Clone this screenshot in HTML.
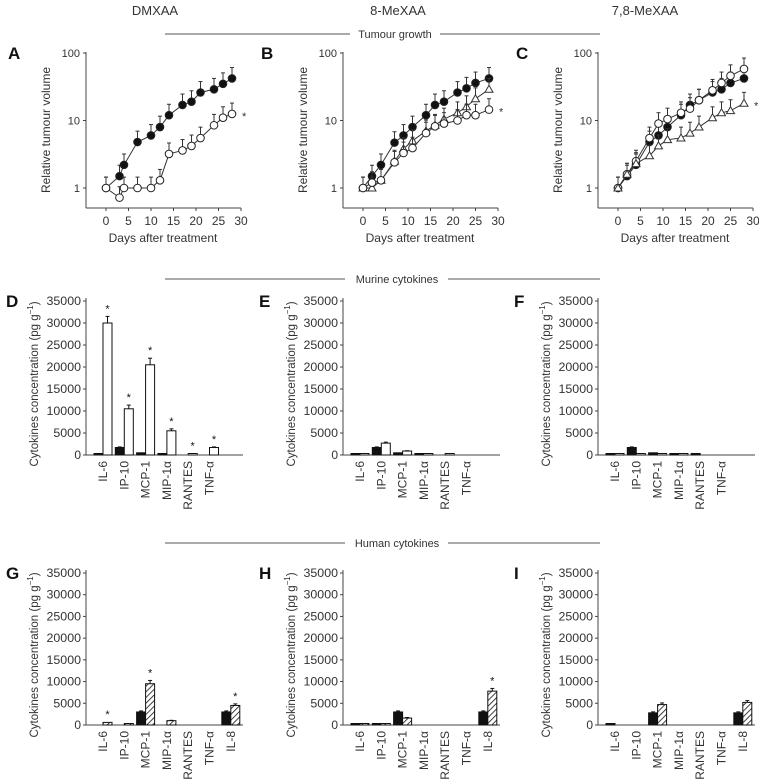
<!DOCTYPE html>
<html><head><meta charset="utf-8"><style>
body{margin:0;background:#fff;}
svg{display:block;font-family:"Liberation Sans",sans-serif;}
</style></head><body>
<svg id="fig" width="759" height="782">
<g fill="#333" font-size="13" text-anchor="middle">
<text x="155" y="15">DMXAA</text>
<text x="398" y="15">8-MeXAA</text>
<text x="645" y="15">7,8-MeXAA</text>
</g>
<g stroke="#777" stroke-width="1.2">
<line x1="165" y1="34" x2="350" y2="34"/><line x1="440" y1="34" x2="600" y2="34"/>
<line x1="165" y1="279" x2="345" y2="279"/><line x1="448" y1="279" x2="600" y2="279"/>
<line x1="165" y1="543" x2="345" y2="543"/><line x1="448" y1="543" x2="600" y2="543"/>
</g>
<g fill="#333" font-size="11" text-anchor="middle">
<text x="395" y="38">Tumour growth</text>
<text x="397" y="283">Murine cytokines</text>
<text x="397" y="547">Human cytokines</text>
</g>
<g id="plots"></g>
</svg>
<script>
// ---- Tumour growth data ----
const daysA=[0,3,4,7,10,12,14,17,19,21,24,26,28];
const daysBC=[0,2,4,7,9,11,14,16,18,21,23,25,28];
const A_closed=[1,1.5,2.2,4.8,6,8,12,17,19,26,29,35,42];
const A_open=[1,0.72,1,1,1,1.3,3.2,3.6,4.2,5.5,8.5,11,12.5];
const B_closed=[1,1.5,2.2,4.7,6,8,12,17,19,26,30,36,42];
const B_open=[1,1.2,1.3,2.4,3.3,3.9,6.5,8.2,9,10,12,12,14.5];
const B_tri=[1,1,1.3,2.5,3.8,5,7,8.5,10.5,13,16,21,29];
const C_closed=[1,1.5,2.2,4.8,6,8,12,17,20,26,29,36,42];
const C_open=[1,1.6,2.5,5.5,9,10.5,13,15,20,28,36,46,58];
const C_tri=[1,1.6,2.3,3,4.2,5.2,5.5,6.5,8,11,13,14,18];
const xTicks=[0,5,10,15,20,25,30];
const yTicksLog=[1,10,100];
// ---- Cytokine data ----
const murineCats=["IL-6","IP-10","MCP-1","MIP-1\u03b1","RANTES","TNF-\u03b1"];
const humanCats=["IL-6","IP-10","MCP-1","MIP-1\u03b1","RANTES","TNF-\u03b1","IL-8"];
const D_closed=[200,1700,500,100,0,0];
const D_open=[30000,10500,20500,5500,300,1700];
const E_closed=[200,1700,500,100,0,0];
const E_open=[100,2700,900,100,50,0];
const F_closed=[200,1700,500,100,50,0];
const F_open=[50,300,200,50,0,0];
const G_closed=[0,0,3000,0,0,0,3000];
const G_hatch=[600,200,9500,1000,0,0,4500];
const H_closed=[100,100,3000,0,0,0,3000];
const H_hatch=[100,100,1600,0,0,0,7800];
const I_closed=[100,0,2800,0,0,0,2800];
const I_hatch=[0,0,4700,0,0,0,5200];
const barTicks=[0,5000,10000,15000,20000,25000,30000,35000];

const NS="http://www.w3.org/2000/svg";
const root=document.getElementById('plots');
function el(tag,attrs,parent,txt){const e=document.createElementNS(NS,tag);for(const k in attrs)e.setAttribute(k,attrs[k]);if(txt!==undefined)e.textContent=txt;(parent||root).appendChild(e);return e;}
const defs=el('defs',{});
const pat=el('pattern',{id:'hatch',width:4,height:4,patternUnits:'userSpaceOnUse',patternTransform:'rotate(45)'},defs);
el('rect',{width:4,height:4,fill:'#fff'},pat);
el('line',{x1:0,y1:0,x2:0,y2:4,stroke:'#111','stroke-width':1.6},pat);

const offs=[0,257,512];
const letters1=["A","B","C"];

function lineChart(i,series){
  const dx=offs[i];
  const g=el('g',{});
  
  
  const x0=106+dx,x30=241+dx;
  const X=d=>x0+(x30-x0)*d/30;
  const Y=v=>188-Math.log10(v)*67.5;
  el('text',{x:8+dx-(i?4:0),y:59,'font-size':17,'font-weight':'bold',fill:'#111'},g,letters1[i]);
  el('line',{x1:86+dx,y1:52,x2:86+dx,y2:208,stroke:'#444'},g);
  el('line',{x1:86+dx,y1:208,x2:241+dx,y2:208,stroke:'#444'},g);
  yTicksLog.forEach(t=>{el('line',{x1:86+dx,x2:83+dx,y1:Y(t),y2:Y(t),stroke:'#444'},g);
    const tt=el('text',{x:80+dx,y:Y(t)+4,'font-size':11,'text-anchor':'end',fill:'#333'},g,t);
    });
  xTicks.forEach(t=>{el('line',{x1:X(t),x2:X(t),y1:208,y2:211,stroke:'#444'},g);
    const tt=el('text',{x:X(t),y:225,'font-size':12,'text-anchor':'middle',fill:'#333'},g,t);
    });
  const xt=el('text',{x:163+dx,y:242,'font-size':12,'text-anchor':'middle',fill:'#333'},g,'Days after treatment');
  
  const yt=el('text',{transform:`translate(${50+dx},130) rotate(-90)`,'font-size':12,'text-anchor':'middle',fill:'#333'},g,'Relative tumour volume');
  
  series.forEach(s=>{
    const pts=s.vals.map((v,k)=>[X(s.days[k]),Y(v)]);
    const pl=el('polyline',{points:pts.map(p=>p.join(',')).join(' '),fill:'none',stroke:'#333','stroke-width':1},g);
    
    s.vals.forEach((v,k)=>{const x=X(s.days[k]),y=Y(v),ye=Y(v*1.45);
      el('line',{x1:x,x2:x,y1:y,y2:ye,stroke:'#333'},g);el('line',{x1:x-2,x2:x+2,y1:ye,y2:ye,stroke:'#333'},g);});
    s.vals.forEach((v,k)=>{const x=X(s.days[k]),y=Y(v);let m;
      if(s.name==='tri')m=el('polygon',{points:`${x},${y-4} ${x-4},${y+3} ${x+4},${y+3}`,fill:'#fff',stroke:'#333'},g);
      else m=el('circle',{cx:x,cy:y,r:3.8,fill:s.name==='closed'?'#111':'#fff',stroke:'#222'},g);
      });
  });
  const last=series[series.length-1];
  el('text',{x:X(28)+10,y:Y(last.vals[last.vals.length-1])+6,'font-size':11,fill:'#333'},g,'*');
}
lineChart(0,[{name:'closed',days:daysA,vals:A_closed},{name:'open',days:daysA,vals:A_open}]);
lineChart(1,[{name:'closed',days:daysBC,vals:B_closed},{name:'tri',days:daysBC,vals:B_tri},{name:'open',days:daysBC,vals:B_open}]);
lineChart(2,[{name:'closed',days:daysBC,vals:C_closed},{name:'open',days:daysBC,vals:C_open},{name:'tri',days:daysBC,vals:C_tri}]);

function barChart(i,letter,yTop,y0,cats,c,o,second,stars){
  const dx=offs[i];
  const g=el('g',{});
  
  
  const Y=v=>y0-(y0-yTop)*v/35000;
  const gx=k=>103+dx+k*21.3;
  el('text',{x:6+dx-(i?4:0),y:yTop+6,'font-size':17,'font-weight':'bold',fill:'#111'},g,letter);
  el('line',{x1:86+dx,y1:yTop-3,x2:86+dx,y2:y0,stroke:'#444'},g);
  el('line',{x1:86+dx,y1:y0,x2:243+dx,y2:y0,stroke:'#444'},g);
  barTicks.forEach(t=>{el('line',{x1:86+dx,x2:83+dx,y1:Y(t),y2:Y(t),stroke:'#444'},g);
    const s=String(t);
    const attrs={x:81+dx,y:Y(t)+4,'font-size':12,'text-anchor':'end',fill:'#333'};
    if(s.length>1){attrs.textLength=s.length*6.9;attrs.lengthAdjust='spacingAndGlyphs';}
    const tt=el('text',attrs,g,s);
    });
  const yt=el('text',{transform:`translate(${38+dx},${(yTop+y0)/2+6}) rotate(-90)`,'font-size':11.5,'text-anchor':'middle',fill:'#333'},g);
  
  yt.innerHTML='Cytokines concentration (pg g<tspan dy="-5" font-size="8">\u22121</tspan><tspan dy="5">)</tspan>';
  cats.forEach((cat,k)=>{const x=gx(k);
    const lt=el('text',{transform:`translate(${x+4},${y0+6}) rotate(-90)`,'font-size':12,'text-anchor':'end',fill:'#333'},g,cat);
    
    [[c[k],'#111',x-9],[o[k],second,x]].forEach(([v,fill,bx],j)=>{
      if(v<=0)return;
      const h=Math.max(1.5,y0-Y(v));
      const r=el('rect',{x:bx,y:y0-h,width:9,height:h,fill:fill,stroke:'#111','stroke-width':1},g);
      
      if(v>800){const ye=Y(v+Math.min(v*0.08,1500));el('line',{x1:bx+4.5,x2:bx+4.5,y1:y0-h,y2:ye,stroke:'#111'},g);
        el('line',{x1:bx+2.5,x2:bx+6.5,y1:ye,y2:ye,stroke:'#111'},g);}
    });
    if(stars[k])el('text',{x:x+4.5,y:Y(o[k]+Math.min(o[k]*0.08,1500))-4,'font-size':11,'text-anchor':'middle',fill:'#111'},g,'*');
  });
}
barChart(0,'D',301,455,murineCats,D_closed,D_open,'#fff',[1,1,1,1,1,1]);
barChart(1,'E',301,455,murineCats,E_closed,E_open,'#fff',[0,0,0,0,0,0]);
barChart(2,'F',301,455,murineCats,F_closed,F_open,'#fff',[0,0,0,0,0,0]);
barChart(0,'G',573,725,humanCats,G_closed,G_hatch,'url(#hatch)',[1,0,1,0,0,0,1]);
barChart(1,'H',573,725,humanCats,H_closed,H_hatch,'url(#hatch)',[0,0,0,0,0,0,1]);
barChart(2,'I',573,725,humanCats,I_closed,I_hatch,'url(#hatch)',[0,0,0,0,0,0,0]);
</script>
</body></html>
